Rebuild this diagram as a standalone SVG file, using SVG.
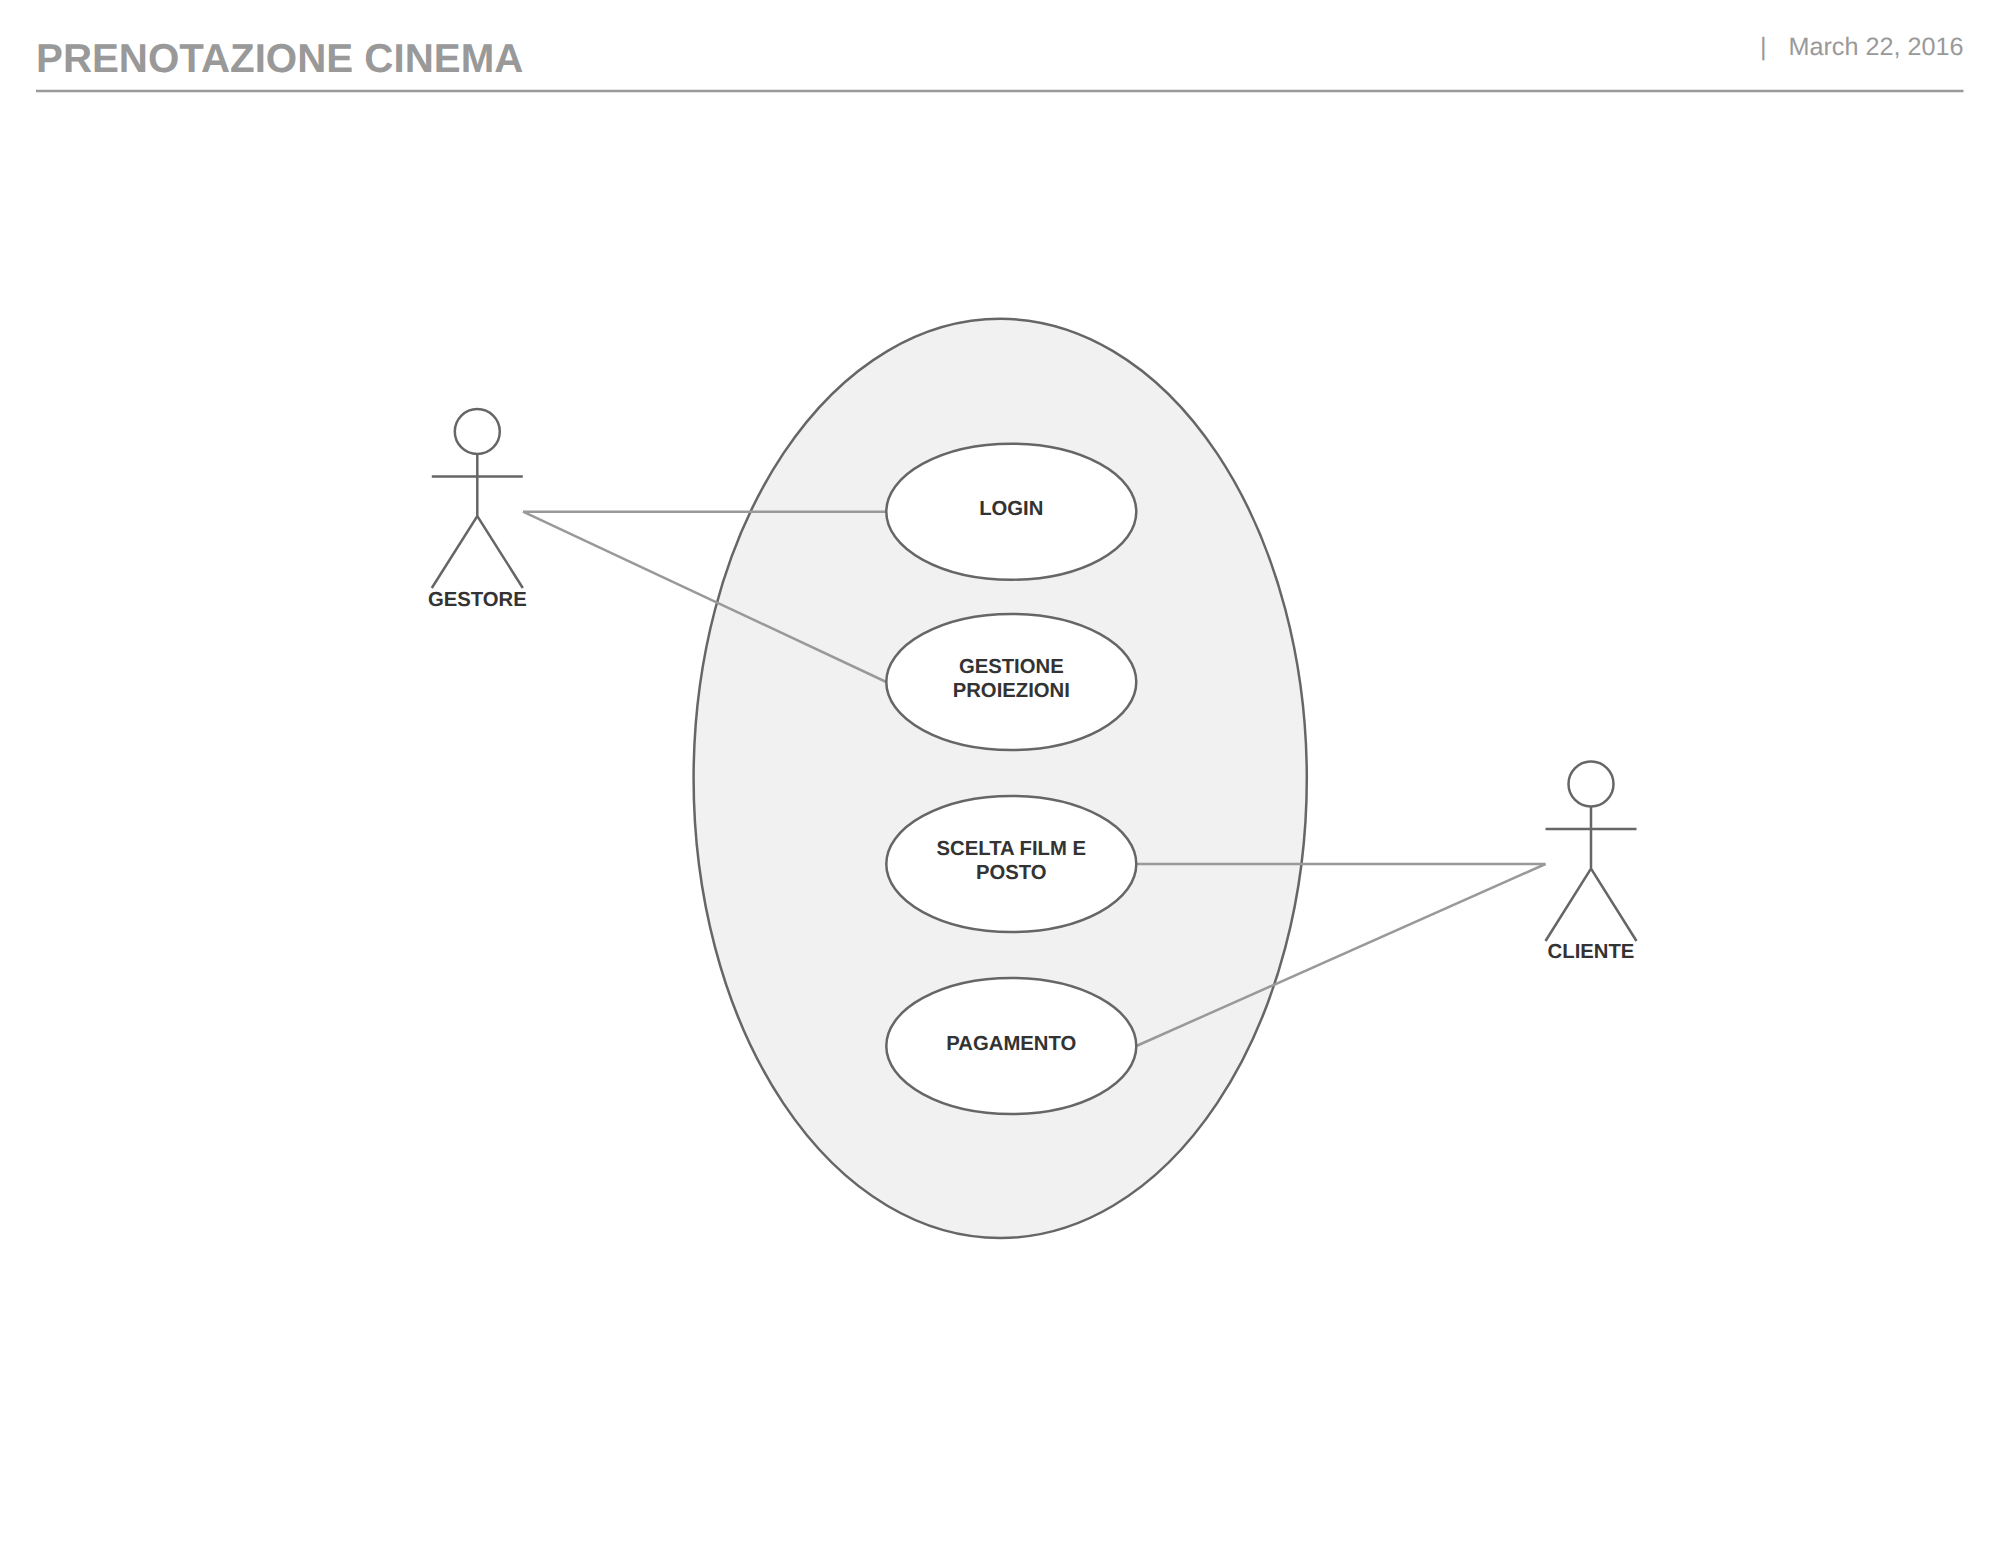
<svg xmlns="http://www.w3.org/2000/svg" width="1999" height="1545" viewBox="0 0 1999 1545">
<style>
text{font-family:"Liberation Sans",Arial,sans-serif;text-rendering:geometricPrecision}
.h{fill:#999}
.t{font-size:40.300px;font-weight:700}
.d{font-size:25.200px}
.l{font-size:20.300px;font-weight:700;fill:#333;text-anchor:middle}
.n{fill:#fff;stroke:#666;stroke-width:2.500}
.a{fill:none;stroke:#666;stroke-width:2.500}
.c{fill:none;stroke:#999;stroke-width:2.500}
</style>
<rect width="1999" height="1545" fill="#fff"/>
<g id="header">
<text class="h t" x="36" y="72">PRENOTAZIONE CINEMA</text>
<text class="h d" x="1963.500" y="55" text-anchor="end">March 22, 2016</text>
<text class="h d" x="1760" y="55">|</text>
<line x1="36" y1="91" x2="1963.500" y2="91" stroke="#999" stroke-width="2.500"/>
</g>
<g id="system"><ellipse cx="1000.200" cy="778.400" rx="306.600" ry="459.600" fill="#f1f1f1" stroke="#666" stroke-width="2.500"/></g>
<g id="connectors">
<path class="c" d="M523 511.700H886.300"/>
<path class="c" d="M523 511.700L886.300 682"/>
<path class="c" d="M1136.300 864H1545.500"/>
<path class="c" d="M1136.300 1046L1545.500 864"/>
</g>
<g id="login"><ellipse class="n" cx="1011.300" cy="511.700" rx="125" ry="68"/><text class="l" x="1011.300" y="515">LOGIN</text></g>
<g id="gestione"><ellipse class="n" cx="1011.300" cy="682" rx="125" ry="68"/><text class="l" x="1011.300" y="672.700">GESTIONE</text><text class="l" x="1011.300" y="697">PROIEZIONI</text></g>
<g id="scelta"><ellipse class="n" cx="1011.300" cy="864" rx="125" ry="68"/><text class="l" x="1011.300" y="854.700">SCELTA FILM E</text><text class="l" x="1011.300" y="879">POSTO</text></g>
<g id="pagamento"><ellipse class="n" cx="1011.300" cy="1046" rx="125" ry="68"/><text class="l" x="1011.300" y="1049.700">PAGAMENTO</text></g>
<g id="gestore"><circle class="a" cx="477.300" cy="431.500" r="22.500"/><path class="a" d="M477.300 454V516M431.800 476.500H522.800M431.800 588L477.300 516L522.800 588"/><text class="l" x="477.300" y="605.700">GESTORE</text></g>
<g id="cliente"><circle class="a" cx="1591" cy="784" r="22.500"/><path class="a" d="M1591 806.500V868.500M1545.500 829H1636.500M1545.500 941L1591 868.500L1636.500 941"/><text class="l" x="1591" y="957.700">CLIENTE</text></g>
</svg>
